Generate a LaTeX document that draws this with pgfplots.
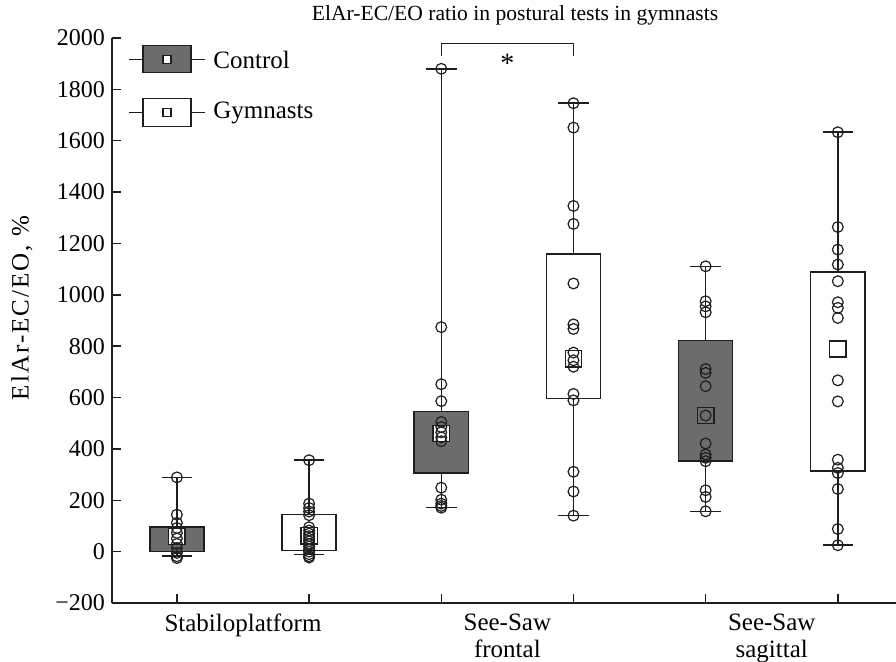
\documentclass[border=0pt]{standalone}
\usepackage{fontspec}
\setmainfont{Liberation Serif}
\usepackage{pgfplots}
\pgfplotsset{compat=1.18}
\usetikzlibrary{calc}
\definecolor{ctrl}{RGB}{108,108,108}
\definecolor{ln}{RGB}{30,30,30}
\pgfplotsset{
  mybox/.style={ln, line width=0.75pt, solid, mark=none, line cap=rect},
}
\begin{document}
\begin{tikzpicture}
\begin{axis}[
  name=ax, at={(0,0)}, anchor=south west,
  scale only axis, width=392pt, height=282.5pt,
  xmin=0.509, xmax=6.44, ymin=-200, ymax=2000,
  clip=false,
  axis x line*=bottom, axis y line*=left,
  axis line style={line width=0.75pt, ln},
  ytick={-200,0,200,400,600,800,1000,1200,1400,1600,1800,2000},
  yticklabels={−200,0,200,400,600,800,1000,1200,1400,1600,1800,2000},
  yticklabel style={font=\fontsize{12}{14}\selectfont},
  xtick={1,2,3,4,5,6}, xticklabels={},
  extra x ticks={1.5,3.5,5.5},
  extra x tick labels={Stabiloplatform, {See-Saw\\frontal}, {See-Saw\\sagittal}},
  extra x tick style={major tick length=0pt, tick label style={align=center, yshift=-2pt, font=\fontsize{12.5}{13.5}\selectfont}},
  tick align=inside, major tick length=4.5pt,
  tick style={line width=0.75pt, ln},
  ylabel={ElAr-EC/EO, \%},
  ylabel style={at={(axis description cs:-0.1148,0.522)}, anchor=center, font=\fontsize{12.5}{14}\selectfont\addfontfeatures{LetterSpace=8}},
  title={ElAr-EC/EO ratio in postural tests in gymnasts},
  title style={at={(axis description cs:0.514,1)}, anchor=base, yshift=2.5pt, font=\fontsize{10.8}{12}\selectfont},
]
% Stabiloplatform control: box 1..96, whiskers -18..289
\addplot[mybox] coordinates {(1,96) (1,289)};
\addplot[mybox] coordinates {(1,1) (1,-18)};
\addplot[mybox] coordinates {(0.89,289) (1.11,289)};
\addplot[mybox] coordinates {(0.89,-18) (1.11,-18)};
\addplot[mybox, fill=ctrl] coordinates {(0.795,1) (1.205,1) (1.205,96) (0.795,96) (0.795,1)};
% Stabiloplatform gymnasts: box 5..144, whiskers -12..356
\addplot[mybox] coordinates {(2,144) (2,356)};
\addplot[mybox] coordinates {(2,5) (2,-12)};
\addplot[mybox] coordinates {(1.89,356) (2.11,356)};
\addplot[mybox] coordinates {(1.89,-12) (2.11,-12)};
\addplot[mybox, fill=white] coordinates {(1.795,5) (2.205,5) (2.205,144) (1.795,144) (1.795,5)};
% See-Saw frontal control: box 307..545, whiskers 171..1880
\addplot[mybox] coordinates {(3,545) (3,1880)};
\addplot[mybox] coordinates {(3,307) (3,171)};
\addplot[mybox] coordinates {(2.89,1880) (3.11,1880)};
\addplot[mybox] coordinates {(2.89,171) (3.11,171)};
\addplot[mybox, fill=ctrl] coordinates {(2.795,307) (3.205,307) (3.205,545) (2.795,545) (2.795,307)};
% See-Saw frontal gymnasts: box 596..1159, whiskers 140..1746
\addplot[mybox] coordinates {(4,1159) (4,1746)};
\addplot[mybox] coordinates {(4,596) (4,140)};
\addplot[mybox] coordinates {(3.89,1746) (4.11,1746)};
\addplot[mybox] coordinates {(3.89,140) (4.11,140)};
\addplot[mybox, fill=white] coordinates {(3.795,596) (4.205,596) (4.205,1159) (3.795,1159) (3.795,596)};
% See-Saw sagittal control: box 352..822, whiskers 157..1111
\addplot[mybox] coordinates {(5,822) (5,1111)};
\addplot[mybox] coordinates {(5,352) (5,157)};
\addplot[mybox] coordinates {(4.89,1111) (5.11,1111)};
\addplot[mybox] coordinates {(4.89,157) (5.11,157)};
\addplot[mybox, fill=ctrl] coordinates {(4.795,352) (5.205,352) (5.205,822) (4.795,822) (4.795,352)};
% See-Saw sagittal gymnasts: box 313..1088, whiskers 25..1633
\addplot[mybox] coordinates {(6,1088) (6,1633)};
\addplot[mybox] coordinates {(6,313) (6,25)};
\addplot[mybox] coordinates {(5.89,1633) (6.11,1633)};
\addplot[mybox] coordinates {(5.89,25) (6.11,25)};
\addplot[mybox, fill=white] coordinates {(5.795,313) (6.205,313) (6.205,1088) (5.795,1088) (5.795,313)};
% means
\addplot[only marks, mark=square*, mark size=4.1pt, mark options={ln, fill=white, line width=0.75pt}] coordinates {(1,60) (2,62) (3,460) (4,751) (6,789)};
\addplot[only marks, mark=square, mark size=4.1pt, mark options={ln, line width=0.75pt}] coordinates {(5,530)};
% individual values
\addplot[only marks, mark=o, mark size=2.7pt, mark options={ln, line width=0.6pt}] coordinates {
 (1,289) (1,144) (1,112) (1,92) (1,73) (1,51) (1,30) (1,14) (1,-5) (1,-18) (1,-25)
 (2,356) (2,187) (2,170) (2,156) (2,142) (2,95) (2,82) (2,70) (2,60) (2,50) (2,40) (2,30) (2,20) (2,10) (2,0) (2,-10) (2,-18) (2,-23)
 (3,1880) (3,874) (3,652) (3,586) (3,505) (3,485) (3,465) (3,445) (3,430) (3,249) (3,202) (3,187) (3,178) (3,171)
 (4,1746) (4,1651) (4,1346) (4,1276) (4,1044) (4,885) (4,867) (4,775) (4,745) (4,720) (4,614) (4,589) (4,311) (4,234) (4,140)
 (5,1111) (5,975) (5,955) (5,932) (5,711) (5,696) (5,644) (5,530) (5,421) (5,378) (5,365) (5,352) (5,239) (5,213) (5,157)
 (6,1633) (6,1264) (6,1176) (6,1118) (6,1053) (6,971) (6,949) (6,910) (6,667) (6,585) (6,358) (6,326) (6,306) (6,244) (6,88) (6,25)
};
% legend
\draw[line width=0.75pt, ln] (axis cs:0.636,1916) -- (axis cs:0.742,1916);
\draw[line width=0.75pt, ln, fill=ctrl] (axis cs:0.742,1865) rectangle (axis cs:1.106,1970);
\draw[line width=0.75pt, ln] (axis cs:1.106,1916) -- (axis cs:1.212,1916);
\draw[line width=0.75pt, ln, fill=white] (axis cs:0.894,1900) rectangle (axis cs:0.954,1932);
\node[anchor=west, inner sep=0pt, font=\fontsize{12.5}{14}\selectfont] at (axis cs:1.273,1916) {Control};
\draw[line width=0.75pt, ln] (axis cs:0.636,1710) -- (axis cs:0.742,1710);
\draw[line width=0.75pt, ln, fill=white] (axis cs:0.742,1655) rectangle (axis cs:1.106,1764);
\draw[line width=0.75pt, ln] (axis cs:1.106,1710) -- (axis cs:1.212,1710);
\draw[line width=0.75pt, ln, fill=white] (axis cs:0.894,1694) rectangle (axis cs:0.954,1726);
\node[anchor=west, inner sep=0pt, font=\fontsize{12.5}{14}\selectfont] at (axis cs:1.273,1710) {Gymnasts};
% significance
\draw[line width=0.75pt, ln] (axis cs:3,1928) -- (axis cs:3,1978) -- (axis cs:4,1978) -- (axis cs:4,1928);
\node[anchor=base, inner sep=0pt, font=\fontsize{14}{14}\selectfont] at (axis cs:3.5,1865) {*};
\end{axis}
\pgfresetboundingbox
\path[use as bounding box] ($(ax.south west)+(-56pt,-29.5pt)$) rectangle ($(ax.north east)+(0,19pt)$);
\end{tikzpicture}
\end{document}
